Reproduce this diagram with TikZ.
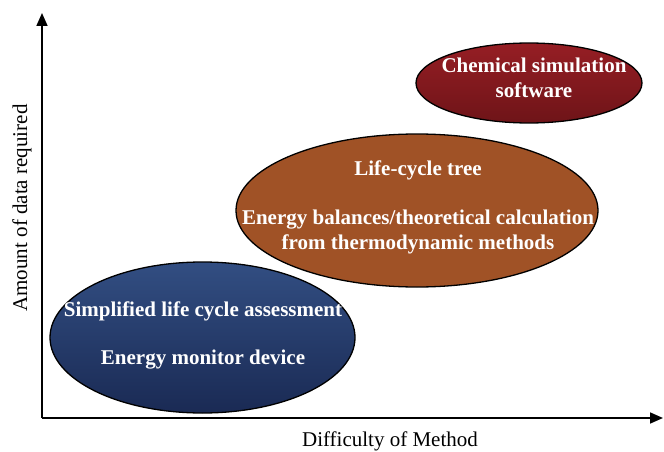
\documentclass[tikz,border=0pt]{standalone}
\usepackage{fontspec}
\setmainfont{Liberation Serif}
\usetikzlibrary{shapes.geometric,arrows.meta}
\definecolor{blueT}{RGB}{50,78,130}
\definecolor{blueB}{RGB}{26,42,84}
\definecolor{orangeF}{RGB}{160,82,38}
\definecolor{redT}{RGB}{150,30,36}
\definecolor{redB}{RGB}{110,20,24}
\tikzset{
  blob/.style={ellipse, draw=black, line width=1.3pt, inner sep=0pt},
  lab/.style={text=white, font=\bfseries\fontsize{21}{25}\selectfont, align=center},
  axis/.style={line width=1.6pt, -{Triangle[length=13pt,width=11pt]}},
  axlab/.style={font=\fontsize{21}{24}\selectfont}
}
\begin{document}
\begin{tikzpicture}[x=1pt,y=-1pt]
\useasboundingbox (0,0) rectangle (664,452);
% ellipses
\node[blob, minimum width=362pt, minimum height=153pt, fill=orangeF] (lct) at (417,210.5) {};
\node[blob, minimum width=305pt, minimum height=151pt, top color=blueT, bottom color=blueB] (slca) at (202.5,337.5) {};
\node[blob, minimum width=226pt, minimum height=80pt, top color=redT, bottom color=redB] (css) at (529,83) {};
% texts
\node[lab] (t1) at (534,78) {Chemical simulation\\software};
\node[lab] (t2) at (418,170) {Life-cycle tree};
\node[lab] (t3) at (418,232) {Energy balances/theoretical calculation\\from thermodynamic methods};
\node[lab] (t4) at (203,311) {Simplified life cycle assessment};
\node[lab] (t5) at (203,360) {Energy monitor device};
% axes
\coordinate (o) at (42,418);
\coordinate (ytip) at (42,13);
\coordinate (xtip) at (663,418);
\draw[axis] (o) -- (ytip);
\draw[axis] (o) -- (xtip);
\node[axlab, rotate=90] (ylab) at (22,208) {Amount of data required};
\node[axlab] (xlab) at (390,441) {Difficulty of Method};
\end{tikzpicture}
\end{document}
